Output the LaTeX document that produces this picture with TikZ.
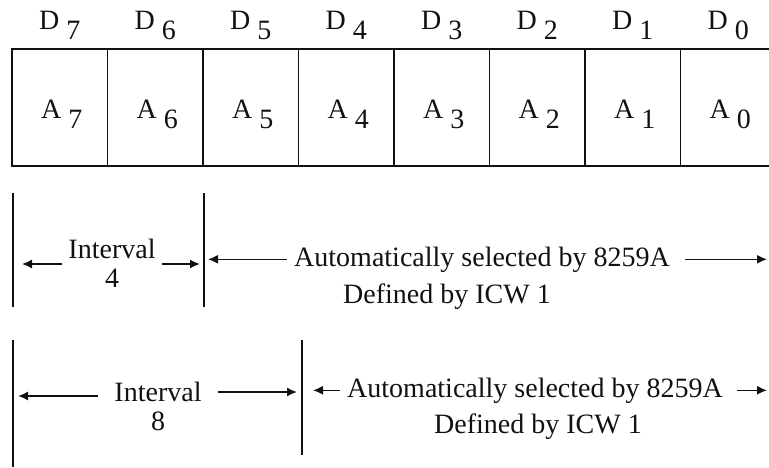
\documentclass[tikz,border=0pt]{standalone}
\usepackage{fontspec}
\setmainfont{Liberation Serif}
\usepackage{xcolor}
\usetikzlibrary{arrows.meta,positioning,calc}
\definecolor{ink}{HTML}{111111}
\newcommand{\lowidx}[2]{#1~\raisebox{-10pt}{#2}}
\tikzset{
  cell/.style  ={draw=ink, line width=1.8pt, minimum width=95.5pt,
                 minimum height=117pt, inner sep=0pt, anchor=north west},
  lbl/.style   ={text=ink, font=\fontsize{28}{29}\selectfont,
                 inner sep=0pt, anchor=base},
  span/.style  ={text=ink, font=\fontsize{28}{29}\selectfont,
                 align=center, inner ysep=0pt},
  bar/.style   ={draw=ink, line width=1.8pt},
  arr/.style   ={-{Latex[length=10pt,width=9pt]}, line width=1.6pt, draw=ink},
}
\begin{document}
\begin{tikzpicture}[x=1pt,y=-1pt]
  \clip (0,0) rectangle (769,468);
  % the register
  \foreach \i in {7,...,0} {
    \node[cell] (c\i) at ({11+(7-\i)*95.5},48) {};
    \node[lbl] (d\i) at ([yshift=18pt]c\i.north) {\lowidx{D}{\i}};
    \node[lbl] (a\i) at ([xshift=2pt,yshift=-71pt]c\i.north) {\lowidx{A}{\i}};
  }
  \coordinate (edge) at (767,0);
  % interval 4
  \coordinate (l1t) at (13,193);  \coordinate (l1b) at (13,307);
  \coordinate (m1t) at (204,193); \coordinate (m1b) at (204,307);
  \draw[bar] (l1t) -- (l1b);
  \draw[bar] (m1t) -- (m1b);
  \node[span,inner xsep=6pt] (int4) at (112,263) {Interval\\4};
  \draw[arr,shorten >=9pt] ([yshift=-1pt]int4.west) -- ([yshift=-1pt]int4.west -| l1t);
  \draw[arr,shorten >=4pt] ([yshift=-1pt]int4.east) -- ([yshift=-1pt]int4.east -| m1t);
  \node[lbl] (auto1) at (482,266) {Automatically selected by 8259A};
  \node[lbl] (def1) at (447,303) {Defined by ICW 1};
  \draw[arr,shorten <=7pt,shorten >=4pt] (auto1.west) -- (auto1.west -| m1t);
  \draw[arr,shorten <=15pt] (auto1.east) -- (auto1.east -| edge);
  % interval 8
  \coordinate (l2t) at (13,340);  \coordinate (l2b) at (13,467);
  \coordinate (m2t) at (302,340); \coordinate (m2b) at (302,455);
  \draw[bar] (l2t) -- (l2b);
  \draw[bar] (m2t) -- (m2b);
  \node[span,inner xsep=16pt] (int8) at (158,406) {Interval\\8};
  \draw[arr,shorten >=5pt] ([yshift=10pt]int8.west) -- ([yshift=10pt]int8.west -| l2t);
  \draw[arr,shorten >=5pt] ([yshift=14pt]int8.east) -- ([yshift=14pt]int8.east -| m2t);
  \node[lbl] (auto2) at (535,397) {Automatically selected by 8259A};
  \node[lbl] (def2) at (538,433) {Defined by ICW 1};
  \draw[arr,shorten <=7pt,shorten >=11pt] (auto2.west) -- (auto2.west -| m2t);
  \draw[arr,shorten <=14pt] (auto2.east) -- (auto2.east -| edge);
\end{tikzpicture}
\end{document}
